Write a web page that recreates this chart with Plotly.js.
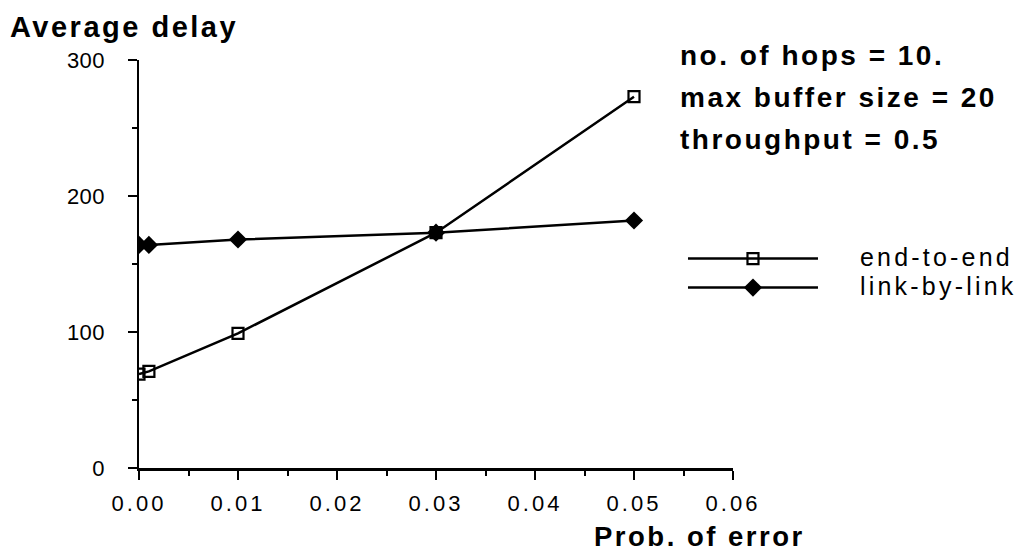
<!DOCTYPE html>
<html>
<head>
<meta charset="utf-8">
<script src="https://cdn.plot.ly/plotly-3.0.1.min.js"></script>
<style>
  html, body { margin: 0; padding: 0; background: #fff; }
  #chart { width: 1032px; height: 553px; }
  .xtick text { letter-spacing: 3px; }
  .ytick text { letter-spacing: 0.5px; }
  .annotation-text { letter-spacing: 2.5px; }
  .legend g, .legend .scrollbox { clip-path: none !important; }
  .legendtext { font-size: 25px !important; letter-spacing: 3.2px; transform: translateX(37px); }
</style>
</head>
<body>
<div id="chart"></div>
<script>
// Data
const probError = [0.0, 0.001, 0.01, 0.03, 0.05];
const endToEnd = [69, 71, 99, 173, 273];
const linkByLink = [164, 164, 168, 173, 182];

const xTickVals = [0, 0.01, 0.02, 0.03, 0.04, 0.05, 0.06];
const xTickText = ['0.00', '0.01', '0.02', '0.03', '0.04', '0.05', '0.06'];
const yTickVals = [0, 100, 200, 300];
const yTickText = ['0', '100', '200', '300'];

const FONT = 'Liberation Sans, Arial, Helvetica, sans-serif';

const traces = [
  {
    x: probError, y: endToEnd, name: 'end-to-end',
    type: 'scatter', mode: 'lines+markers',
    line: { color: '#000', width: 2.5 },
    marker: { symbol: 'square-open', size: 11, color: '#000', line: { width: 2.2, color: '#000' } }
  },
  {
    x: probError, y: linkByLink, name: 'link-by-link',
    type: 'scatter', mode: 'lines+markers',
    line: { color: '#000', width: 2.5 },
    marker: { symbol: 'diamond', size: 14, color: '#000' }
  }
];

const layout = {
  width: 1032, height: 553,
  paper_bgcolor: '#fff', plot_bgcolor: '#fff',
  margin: { l: 139, r: 299, t: 60, b: 85 },
  font: { family: FONT, color: '#000', size: 22 },
  showlegend: true,
  legend: {
    x: 0.9158, xanchor: 'left', y: 0.561, yanchor: 'top',
    font: { size: 20, family: FONT, color: '#000' },
    itemwidth: 130, bgcolor: 'rgba(0,0,0,0)', borderwidth: 0
  },
  xaxis: {
    range: [0, 0.06], tickvals: xTickVals, ticktext: xTickText,
    showline: true, linecolor: '#000', linewidth: 2.5,
    ticks: 'outside', ticklen: 9, tickwidth: 2.5, tickcolor: '#000',
    minor: { dtick: 0.005, ticks: 'outside', ticklen: 5, tickwidth: 2, tickcolor: '#000' },
    showgrid: false, zeroline: false,
    tickfont: { size: 22, family: FONT, color: '#000' },
    ticklabelstandoff: 5, fixedrange: true
  },
  yaxis: {
    range: [0, 300], tickvals: yTickVals, ticktext: yTickText,
    showline: true, linecolor: '#000', linewidth: 2.5,
    ticks: 'outside', ticklen: 9, tickwidth: 2.5, tickcolor: '#000',
    minor: { dtick: 50, ticks: 'outside', ticklen: 5, tickwidth: 2, tickcolor: '#000' },
    showgrid: false, zeroline: false,
    tickfont: { size: 22, family: FONT, color: '#000' },
    ticklabelstandoff: 18, fixedrange: true
  },
  annotations: [
    { text: '<b>Average delay</b>', xref: 'paper', yref: 'paper', x: -0.2205, y: 1.081,
      xanchor: 'left', yanchor: 'middle', showarrow: false, font: { size: 29, family: FONT, color: '#000' } },
    { text: '<b>Prob. of error</b>', xref: 'paper', yref: 'paper', x: 0.7626, y: -0.168,
      xanchor: 'left', yanchor: 'middle', showarrow: false, font: { size: 27.5, family: FONT, color: '#000' } },
    { text: '<b>no. of hops = 10.</b>', xref: 'paper', yref: 'paper', x: 0.9074, y: 1.012,
      xanchor: 'left', yanchor: 'middle', showarrow: false, font: { size: 28, family: FONT, color: '#000' } },
    { text: '<b>max buffer size = 20</b>', xref: 'paper', yref: 'paper', x: 0.9074, y: 0.907,
      xanchor: 'left', yanchor: 'middle', showarrow: false, font: { size: 28, family: FONT, color: '#000' } },
    { text: '<b>throughput = 0.5</b>', xref: 'paper', yref: 'paper', x: 0.9074, y: 0.806,
      xanchor: 'left', yanchor: 'middle', showarrow: false, font: { size: 28, family: FONT, color: '#000' } }
  ]
};

Plotly.newPlot('chart', traces, layout, { displayModeBar: false, staticPlot: true });
</script>
</body>
</html>
